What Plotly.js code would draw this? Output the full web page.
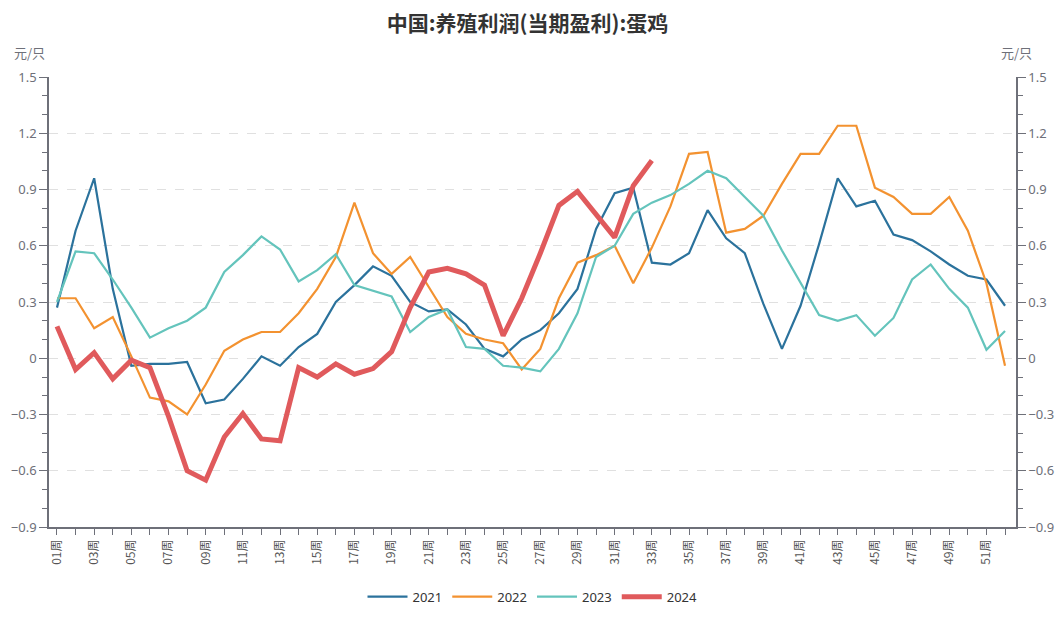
<!DOCTYPE html>
<html>
<head>
<meta charset="utf-8">
<script src="https://cdn.plot.ly/plotly-3.0.1.min.js"></script>
<style>html,body{margin:0;padding:0;background:#fff;}#chart{width:1055px;height:625px;}</style>
</head>
<body>
<div id="chart"></div>
<script>
const weeks = [];
for (let i = 1; i <= 52; i++) weeks.push((i < 10 ? '0' + i : '' + i) + '周');
const tickLabels = weeks.map((w, i) => (i % 2 === 0 ? w : ''));

const y2021 = [0.27,0.68,0.96,0.37,-0.04,-0.03,-0.03,-0.02,-0.24,-0.22,-0.11,0.01,-0.04,0.06,0.13,0.30,0.39,0.49,0.44,0.30,0.25,0.26,0.18,0.05,0.01,0.10,0.15,0.24,0.37,0.69,0.88,0.91,0.51,0.50,0.56,0.79,0.64,0.56,0.29,0.05,0.28,0.61,0.96,0.81,0.84,0.66,0.63,0.57,0.50,0.44,0.42,0.28];
const y2022 = [0.32,0.32,0.16,0.22,0.01,-0.21,-0.23,-0.30,-0.14,0.04,0.10,0.14,0.14,0.24,0.37,0.54,0.83,0.56,0.45,0.54,0.38,0.22,0.13,0.10,0.08,-0.06,0.05,0.32,0.51,0.55,0.60,0.40,0.59,0.81,1.09,1.10,0.67,0.69,0.76,0.93,1.09,1.09,1.24,1.24,0.91,0.86,0.77,0.77,0.86,0.68,0.40,-0.04];
const y2023 = [0.30,0.57,0.56,0.42,0.27,0.11,0.16,0.20,0.27,0.46,0.55,0.65,0.58,0.41,0.47,0.555,0.39,0.36,0.33,0.14,0.22,0.26,0.06,0.05,-0.04,-0.05,-0.07,0.05,0.24,0.54,0.60,0.77,0.83,0.87,0.93,1.00,0.96,0.86,0.76,0.575,0.40,0.23,0.20,0.23,0.12,0.215,0.42,0.50,0.37,0.27,0.045,0.145];
const y2024 = [0.17,-0.06,0.03,-0.11,-0.01,-0.05,-0.31,-0.60,-0.65,-0.42,-0.295,-0.43,-0.44,-0.05,-0.10,-0.03,-0.085,-0.055,0.035,0.27,0.46,0.48,0.45,0.39,0.12,0.32,0.56,0.815,0.89,0.77,0.645,0.92,1.055];

const seriesNames = ['2021','2022','2023','2024'];
const seriesData = [y2021, y2022, y2023, y2024];
const seriesColors = ['#2b729c','#f39230','#64c4bc','#e05a5c'];
const seriesWidths = [2.2, 2.2, 2.2, 5];

const traces = seriesData.map((d, k) => ({
  type: 'scatter', mode: 'lines', name: seriesNames[k],
  x: weeks.slice(0, d.length), y: d,
  line: {color: seriesColors[k], width: seriesWidths[k]},
  hoverinfo: 'x+y+name'
}));
// invisible trace to anchor right axis
traces.push({type:'scatter', mode:'lines', x: weeks.slice(0, y2024.length), y: y2024, yaxis:'y2', showlegend:false, line:{color:'rgba(0,0,0,0)', width:0}, hoverinfo:'skip'});

const axisColor = '#6e7079';
const yCommon = {
  range: [-0.9, 1.5], dtick: 0.3, tick0: 0,
  ticks: 'outside', ticklen: 8, tickcolor: axisColor, tickwidth: 1,
  showline: true, linecolor: axisColor, linewidth: 1.5,
  tickfont: {family: 'Noto Sans, sans-serif', size: 13, color: axisColor},
  zeroline: false, fixedrange: true,
  minor: {dtick: 0.1, tick0: 0, ticks: 'outside', ticklen: 5, tickcolor: axisColor, showgrid: false}
};

const layout = {
  width: 1055, height: 625,
  margin: {l: 49, r: 39, t: 77, b: 98},
  paper_bgcolor: '#fff', plot_bgcolor: '#fff',
  title: {text: '<b>中国:养殖利润(当期盈利):蛋鸡</b>', x: 0.5, xanchor: 'center', y: 0.962, yanchor: 'middle',
    font: {family: 'Noto Sans CJK SC, sans-serif', size: 21, color: '#333'}},
  xaxis: {
    type: 'category', categoryarray: weeks, range: [-0.43, 51.59],
    tickvals: weeks, ticktext: tickLabels, tickangle: -90,
    ticks: 'outside', ticklen: 6, tickcolor: axisColor,
    showline: true, linecolor: axisColor, linewidth: 1.5,
    showgrid: false, zeroline: false,
    tickfont: {family: 'Noto Sans CJK SC, sans-serif', size: 12, color: '#555'}
  },
  yaxis: Object.assign({}, yCommon, {side: 'left', showgrid: true, gridcolor: '#e0e0e0', griddash: 'dash', gridwidth: 1}),
  yaxis2: Object.assign({}, yCommon, {side: 'right', overlaying: 'y', anchor: 'x', showgrid: false}),
  showlegend: true,
  legend: {orientation: 'h', x: 0.5, xanchor: 'center', y: -0.155, yanchor: 'middle',
    font: {family: 'Noto Sans, sans-serif', size: 13, color: '#333'}, itemwidth: 40, traceorder: 'normal'},
  annotations: [
    {text: '元/只', xref: 'paper', yref: 'paper', x: -0.02, y: 1.055, xanchor: 'center', yanchor: 'middle', showarrow: false,
     font: {family: 'Noto Sans CJK SC, sans-serif', size: 13, color: axisColor}},
    {text: '元/只', xref: 'paper', yref: 'paper', x: 1.0, y: 1.055, xanchor: 'center', yanchor: 'middle', showarrow: false,
     font: {family: 'Noto Sans CJK SC, sans-serif', size: 13, color: axisColor}}
  ]
};

Plotly.newPlot('chart', traces, layout, {displayModeBar: false, staticPlot: false});
</script>
</body>
</html>
